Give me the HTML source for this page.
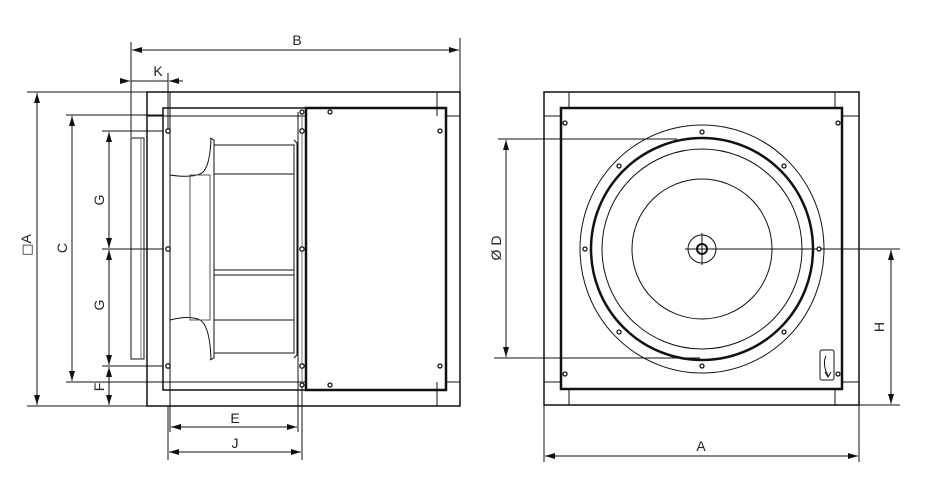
<!DOCTYPE html>
<html><head><meta charset="utf-8"><style>body{margin:0;background:#fff}svg{display:block}text{font-family:"Liberation Sans",sans-serif;font-size:14px;fill:#222}</style></head><body>
<svg width="936" height="497" viewBox="0 0 936 497" xmlns="http://www.w3.org/2000/svg">
<defs><marker id="a" viewBox="0 0 10 6" refX="10" refY="3" markerWidth="10" markerHeight="6" orient="auto-start-reverse" markerUnits="userSpaceOnUse"><path d="M0,0L10,3L0,6z" fill="#111"/></marker></defs>
<g stroke="#111" fill="none" stroke-width="1">
<rect x="147" y="92" width="313" height="314" stroke-width="1.5"/>
<line x1="170" y1="92" x2="170" y2="406"/><line x1="437" y1="92" x2="437" y2="116"/><line x1="437" y1="382" x2="437" y2="406"/>
<line x1="147" y1="116" x2="163" y2="116"/><line x1="446" y1="116" x2="460" y2="116"/>
<line x1="147" y1="382" x2="163" y2="382"/><line x1="446" y1="382" x2="460" y2="382"/>
<line x1="163" y1="116" x2="306" y2="116"/><line x1="163" y1="382" x2="306" y2="382"/>
<rect x="163" y="108" width="143" height="282" stroke-width="1.5"/>
<rect x="306" y="108" width="140" height="282" stroke-width="2.5"/>
<line x1="298" y1="112" x2="298" y2="386"/><line x1="302" y1="112" x2="302" y2="386" stroke="#777"/>
<rect x="131" y="138" width="13" height="221" stroke-width="1"/><line x1="141" y1="138" x2="141" y2="359" stroke="#777"/>
<path d="M170,175 Q190,178 200,174 Q210,170 211,138"/><path d="M170,320 Q190,315 200,320 Q210,326 211,360"/>
<rect x="190" y="175" width="20" height="145" stroke="#555"/>
<path d="M210,138 L214,140 L214,358 L210,360"/>
<rect x="214" y="145" width="80" height="208"/>
<line x1="214" y1="174" x2="294" y2="174"/><line x1="214" y1="270" x2="294" y2="270"/><line x1="214" y1="275" x2="294" y2="275"/><line x1="214" y1="320" x2="294" y2="320"/>
<path d="M294,140 L297,143 L297,355 L294,358"/>
<line x1="131" y1="42" x2="131" y2="137"/><line x1="460" y1="38" x2="460" y2="92"/>
<line x1="132" y1="50" x2="459" y2="50" marker-start="url(#a)" marker-end="url(#a)"/>
<line x1="168" y1="73" x2="168" y2="131"/>
<line x1="121" y1="81" x2="130" y2="81" marker-end="url(#a)"/><line x1="183" y1="81" x2="169" y2="81" marker-end="url(#a)"/><line x1="131" y1="81" x2="168" y2="81"/>
<line x1="27" y1="92" x2="147" y2="92"/><line x1="27" y1="406" x2="147" y2="406"/>
<line x1="37" y1="93" x2="37" y2="405" marker-start="url(#a)" marker-end="url(#a)"/>
<line x1="66" y1="115" x2="163" y2="115"/><line x1="66" y1="382" x2="163" y2="382"/>
<line x1="72" y1="116" x2="72" y2="381" marker-start="url(#a)" marker-end="url(#a)"/>
<line x1="102" y1="131" x2="163" y2="131"/><line x1="102" y1="249" x2="163" y2="249"/><line x1="102" y1="366" x2="163" y2="366"/>
<line x1="109" y1="132" x2="109" y2="248" marker-start="url(#a)" marker-end="url(#a)"/>
<line x1="109" y1="250" x2="109" y2="365" marker-start="url(#a)" marker-end="url(#a)"/>
<line x1="109" y1="367" x2="109" y2="405" marker-start="url(#a)" marker-end="url(#a)"/>
<line x1="170" y1="406" x2="170" y2="432"/><line x1="298" y1="386" x2="298" y2="432"/>
<line x1="171" y1="427" x2="297" y2="427" marker-start="url(#a)" marker-end="url(#a)"/>
<line x1="168" y1="406" x2="168" y2="460"/><line x1="302" y1="386" x2="302" y2="460"/>
<line x1="169" y1="452" x2="301" y2="452" marker-start="url(#a)" marker-end="url(#a)"/>
<rect x="544" y="92" width="315" height="313" stroke-width="1.5"/>
<line x1="569" y1="92" x2="569" y2="108"/><line x1="835" y1="92" x2="835" y2="108"/><line x1="569" y1="389" x2="569" y2="405"/><line x1="835" y1="389" x2="835" y2="405"/>
<line x1="544" y1="116" x2="561" y2="116"/><line x1="842" y1="116" x2="859" y2="116"/><line x1="544" y1="382" x2="561" y2="382"/><line x1="842" y1="382" x2="859" y2="382"/>
<rect x="561" y="108" width="281" height="281" stroke-width="2.5"/>
<ellipse cx="702" cy="249" rx="122" ry="124"/>
<circle cx="702" cy="249" r="111" stroke-width="2.5"/>
<circle cx="702" cy="249" r="100"/>
<circle cx="702" cy="249" r="70"/>
<circle cx="702" cy="249" r="14"/><circle cx="702" cy="249" r="5" stroke-width="2"/>
<line x1="685" y1="249" x2="900" y2="249"/><line x1="702" y1="233" x2="702" y2="265"/>
<rect x="820" y="350" width="14" height="30" rx="2"/>
<path d="M826,356 Q822,364 828,376 M825,372 L828,377 L831,372"/>
<line x1="498" y1="139" x2="677" y2="139"/><line x1="494" y1="358" x2="700" y2="358"/>
<line x1="506" y1="140" x2="506" y2="357" marker-start="url(#a)" marker-end="url(#a)"/>
<line x1="859" y1="405" x2="900" y2="405"/>
<line x1="891" y1="250" x2="891" y2="404" marker-start="url(#a)" marker-end="url(#a)"/>
<line x1="544" y1="405" x2="544" y2="462"/><line x1="859" y1="405" x2="859" y2="462"/>
<line x1="545" y1="456" x2="858" y2="456" marker-start="url(#a)" marker-end="url(#a)"/>
</g>
<g fill="#fff" stroke="#111" stroke-width="1.3">
<circle cx="168" cy="131" r="2.2"/><circle cx="168" cy="249" r="2.2"/><circle cx="168" cy="366" r="2.2"/>
<circle cx="302" cy="131" r="2.2"/><circle cx="302" cy="249" r="2.2"/><circle cx="302" cy="366" r="2.2"/>
<circle cx="302" cy="112" r="2"/><circle cx="302" cy="385" r="2"/>
<circle cx="330" cy="112" r="2"/><circle cx="330" cy="385" r="2"/><circle cx="440" cy="131" r="2"/><circle cx="440" cy="366" r="2"/>
<circle cx="565" cy="123" r="2"/><circle cx="838" cy="123" r="2"/><circle cx="565" cy="374" r="2"/><circle cx="838" cy="374" r="2"/>
<circle cx="702" cy="132" r="2"/><circle cx="702" cy="366" r="2"/><circle cx="585" cy="249" r="2"/><circle cx="819" cy="249" r="2"/>
<circle cx="619" cy="166" r="2"/><circle cx="784" cy="166" r="2"/><circle cx="619" cy="332" r="2"/><circle cx="784" cy="332" r="2"/>
</g>
<text x="297" y="45" text-anchor="middle">B</text>
<text x="158" y="76" text-anchor="middle">K</text>
<text x="235" y="423" text-anchor="middle">E</text>
<text x="235" y="448" text-anchor="middle">J</text>
<text x="701" y="451" text-anchor="middle">A</text>
<text transform="translate(31,245) rotate(-90)" text-anchor="middle"><tspan font-family="DejaVu Sans" font-size="13">□</tspan>A</text>
<text transform="translate(67,248) rotate(-90)" text-anchor="middle">C</text>
<text transform="translate(104,200) rotate(-90)" text-anchor="middle">G</text>
<text transform="translate(104,305) rotate(-90)" text-anchor="middle">G</text>
<text transform="translate(104,387) rotate(-90)" text-anchor="middle">F</text>
<text transform="translate(501,248) rotate(-90)" text-anchor="middle">Ø D</text>
<text transform="translate(884,327) rotate(-90)" text-anchor="middle">H</text>
</svg>
</body></html>
